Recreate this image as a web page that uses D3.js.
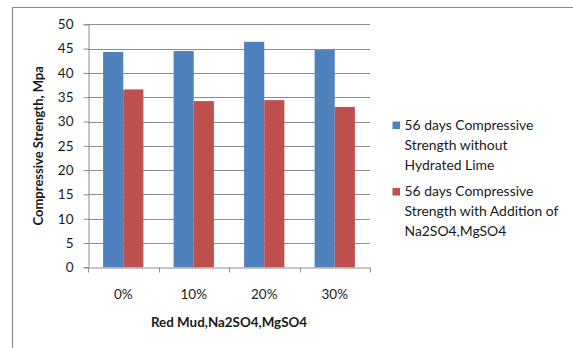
<!DOCTYPE html>
<html>
<head>
<meta charset="utf-8">
<script src="https://cdn.jsdelivr.net/npm/d3@7"></script>
<style>
  html, body { margin: 0; padding: 0; background: #fff; }
  svg { display: block; }
  text { font-family: Lato, "Open Sans", sans-serif; fill: #1a1a1a; }
</style>
</head>
<body>
<svg id="chart" width="573" height="348"></svg>
<script>
// Mix proportions on the x axis
const categories = ["0%", "10%", "20%", "30%"];
// 56-day compressive strength (MPa)
const withoutLime = [44.3, 44.5, 46.4, 44.7];
const withSulphates = [36.6, 34.2, 34.4, 33.0];
const seriesNames = [
  ["56 days Compressive", "Strength without", "Hydrated Lime"],
  ["56 days Compressive", "Strength with Addition of", "Na2SO4,MgSO4"]
];
const yTicks = [0, 5, 10, 15, 20, 25, 30, 35, 40, 45, 50];
const colors = ["#4F81BD", "#C0504D"];

const svg = d3.select("#chart");
const margin = { left: 88, right: 370, top: 24.3, bottom: 267.3 };

// Outer frame (left and top edges)
svg.append("path")
  .attr("d", "M12.5,348 V7.5 H573")
  .attr("fill", "none").attr("stroke", "#8a8a8a").attr("stroke-width", 1.2);

const x = d3.scaleBand().domain(categories).range([margin.left, margin.right]);
// two bars per group with a 150% gap split around them
const xInner = d3.scaleBand().domain([0, 1]).range([0, x.bandwidth()]).paddingOuter(0.75).paddingInner(0);
const y = d3.scaleLinear().domain([0, 50]).range([margin.bottom, margin.top]);

// Horizontal gridlines
svg.append("g").selectAll("line").data(yTicks.slice(1)).join("line")
  .attr("x1", margin.left).attr("x2", margin.right)
  .attr("y1", d => Math.round(y(d)) + 0.5).attr("y2", d => Math.round(y(d)) + 0.5)
  .attr("stroke", "#8c8c8c").attr("stroke-width", 1);

// Bars
const data = categories.map((c, i) => ({ c, v: [withoutLime[i], withSulphates[i]] }));
svg.append("g").selectAll("g").data(data).join("g")
  .attr("transform", d => `translate(${x(d.c)},0)`)
  .selectAll("rect").data(d => d.v.map((v, k) => ({ v, k }))).join("rect")
  .attr("x", d => xInner(d.k))
  .attr("width", xInner.bandwidth())
  .attr("y", d => y(d.v))
  .attr("height", d => y(0) - y(d.v))
  .attr("fill", d => colors[d.k]);

// Y axis
const yAxis = svg.append("g")
  .attr("transform", `translate(${margin.left + 0.5},0)`)
  .call(d3.axisLeft(y).tickValues(yTicks).tickSize(5).tickPadding(10));
yAxis.select(".domain").attr("stroke", "#8c8c8c");
yAxis.selectAll(".tick line").attr("stroke", "#8c8c8c");
yAxis.selectAll(".tick text").attr("font-size", 13.5).style("font-family", "Lato, sans-serif").attr("fill", "#1a1a1a");

// X axis
const xAxis = svg.append("g")
  .attr("transform", `translate(0,${Math.round(margin.bottom) + 0.5})`)
  .call(d3.axisBottom(x).tickSize(0).tickPadding(22));
xAxis.select(".domain").attr("stroke", "#8c8c8c");
xAxis.selectAll(".tick text").attr("font-size", 13.5).style("font-family", "Lato, sans-serif").attr("fill", "#1a1a1a");
// Category boundary ticks
xAxis.append("g").selectAll("line")
  .data(categories.map(c => x(c)).concat([margin.right]))
  .join("line")
  .attr("x1", d => Math.round(d) + 0.5).attr("x2", d => Math.round(d) + 0.5)
  .attr("y1", 0).attr("y2", 5)
  .attr("stroke", "#8c8c8c");

// Axis titles
svg.append("text")
  .attr("x", (margin.left + margin.right) / 2).attr("y", 327)
  .attr("text-anchor", "middle").attr("font-weight", "bold").attr("font-size", 13.4)
  .text("Red Mud,Na2SO4,MgSO4");

svg.append("text")
  .attr("transform", `translate(43,${(margin.top + margin.bottom) / 2}) rotate(-90)`)
  .attr("text-anchor", "middle").attr("font-weight", "bold").attr("font-size", 13)
  .text("Compressive Strength, Mpa");

// Legend
const legend = svg.append("g");
const legendTops = [125, 191.5];
seriesNames.forEach((lines, k) => {
  legend.append("rect")
    .attr("x", 392.5).attr("y", legendTops[k] - 3.5)
    .attr("width", 7.5).attr("height", 7.5)
    .attr("fill", colors[k]);
  lines.forEach((t, j) => {
    legend.append("text")
      .attr("x", 404.5).attr("y", legendTops[k] + j * 20 + 4.5)
      .attr("font-size", 13.9)
      .text(t);
  });
});
</script>
</body>
</html>
